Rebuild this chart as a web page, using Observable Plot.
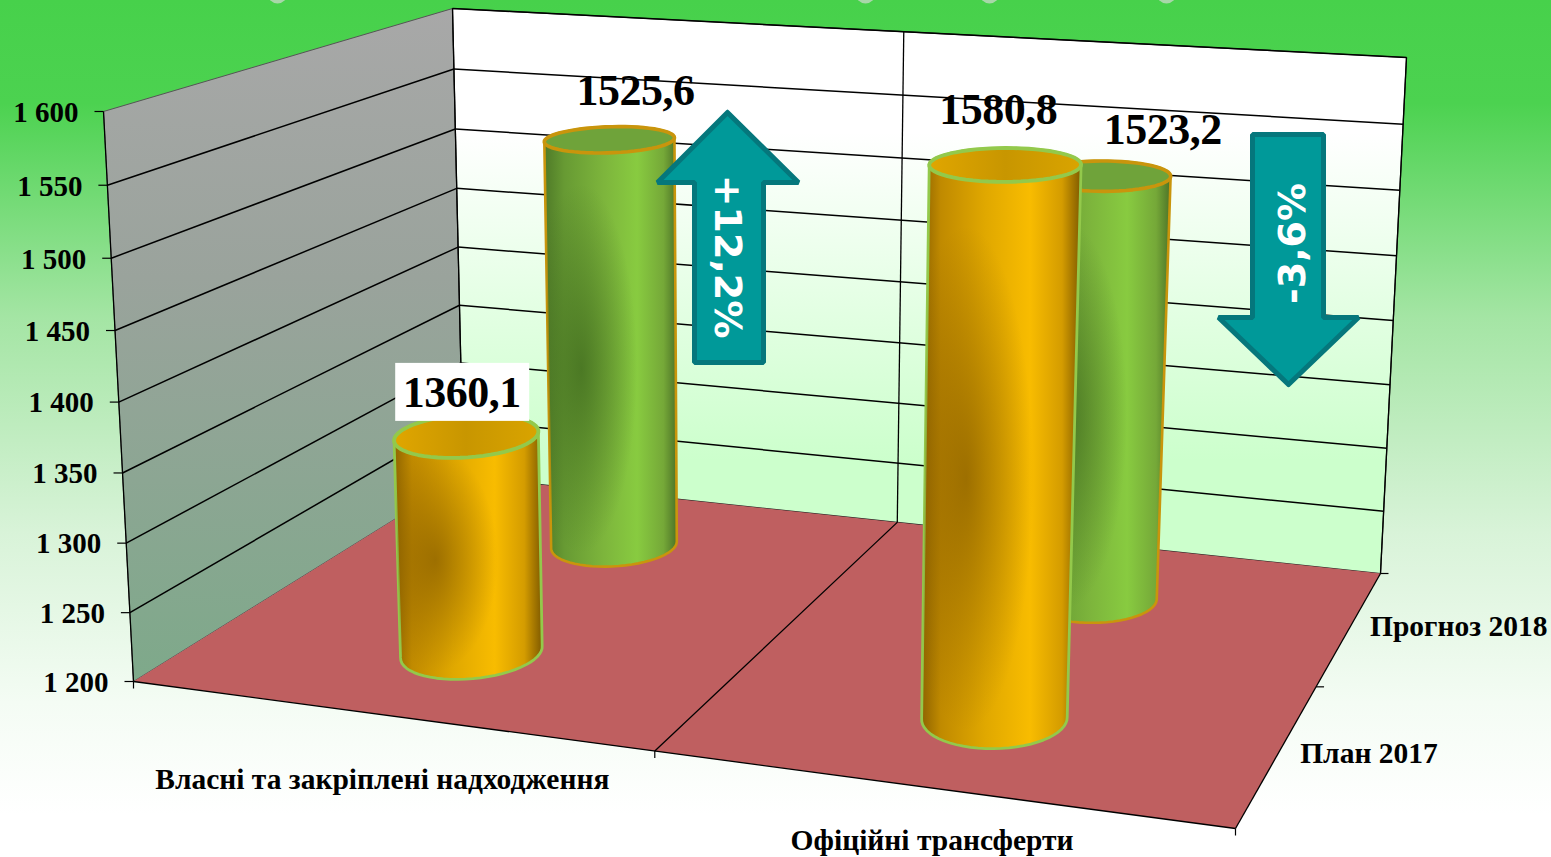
<!DOCTYPE html>
<html><head><meta charset="utf-8">
<script src="https://cdn.jsdelivr.net/npm/d3@7"></script>
<script src="https://cdn.jsdelivr.net/npm/@observablehq/plot@0.6"></script>
<style>
html,body{margin:0;padding:0;overflow:hidden;background:#fff}
svg{display:block}
.val text{letter-spacing:-0.5px}
</style></head><body><div id="chart"></div>
<script>
// ---- data ----
const categories = ["Власні та закріплені надходження", "Офіційні трансферти"];
const series = ["План 2017", "Прогноз 2018"];
const plan2017 = [1360.1, 1580.8];
const forecast2018 = [1525.6, 1523.2];
const valueLabels = [["1360,1", "1580,8"], ["1525,6", "1523,2"]];
const axisTicks = [1200, 1250, 1300, 1350, 1400, 1450, 1500, 1550, 1600];
const axisLabels = ["1 200", "1 250", "1 300", "1 350", "1 400", "1 450", "1 500", "1 550", "1 600"];
const changes = ["+12,2%", "-3,6%"];

// ---- 3D view of the chart box (screen corners, perspective bias) ----
const corners = {
  c000: [133, 681], c100: [1235, 828], c010: [463, 476], c110: [1380, 573],
  c001: [103, 111], c101: [1259, 196], c011: [452, 8], c111: [1406, 57]
};
const bias = (t, a) => t / (t + a * (1 - t));
const domainZ = [1200, 1600];
function project(u, v, value) {
  const U = bias(u, 1.114), V = bias(v, 0.8);
  const W = bias((value - domainZ[0]) / (domainZ[1] - domainZ[0]), 1.04);
  const c = corners, out = [0, 1].map(i =>
    c.c000[i]*(1-U)*(1-V)*(1-W) + c.c100[i]*U*(1-V)*(1-W) + c.c010[i]*(1-U)*V*(1-W) + c.c110[i]*U*V*(1-W) +
    c.c001[i]*(1-U)*(1-V)*W + c.c101[i]*U*(1-V)*W + c.c011[i]*(1-U)*V*W + c.c111[i]*U*V*W);
  return out;
}
const pt = (u, v, z) => { const p = project(u, v, z); return {x: p[0], y: p[1]}; };
const [Z0, Z1] = domainZ;
const closed = a => [...a, a[0]];
const face = (...ps) => closed(ps.map(p => pt(...p)));
const seg = (a, b) => { const p = pt(...a), q = pt(...b); return {x1: p.x, y1: p.y, x2: q.x, y2: q.y}; };

// cylinders
const ru = 0.0625, rv = 0.108;
const angles = d3.range(0, 360, 6).map(d => d * Math.PI / 180);
const ring = (u, v, z) => angles.map(a => pt(u + ru * Math.cos(a), v + rv * Math.sin(a), z));
function cylinder(ci, si, value) {
  const u = 0.25 + 0.5 * ci, v = 0.25 + 0.5 * si;
  const base = ring(u, v, Z0), top = ring(u, v, value);
  const hull = d3.polygonHull([...base, ...top].map(p => [p.x, p.y])).map(([x, y]) => ({x, y}));
  return {body: closed(hull), top: closed(top), center: pt(u, v, value)};
}
const style = [
  {body: "url(#bodyO)", shade: "url(#shadeO)", cap: "url(#capO)", rim: "#93c94b"},
  {body: "url(#bodyG)", shade: "url(#shadeG)", cap: "#6fa33a", rim: "#c9950c"}
];
function cylMarks(ci, si, value) {
  const c = cylinder(ci, si, value), s = style[si], w = si === 0 ? 2.8 : 2.6;
  return [
    Plot.line(c.body, {x: "x", y: "y", fill: s.body, stroke: s.rim, strokeWidth: w}),
    Plot.line(c.body, {x: "x", y: "y", fill: s.shade, stroke: "none"}),
    Plot.line(c.top, {x: "x", y: "y", fill: s.cap, stroke: s.rim, strokeWidth: w + 1})
  ];
}

// value labels: offset from each cylinder's top centre
const labelOffset = [[[-5, -42], [-7, -55]], [[26, -49], [60, -46]]];
const valueRows = [];
[plan2017, forecast2018].forEach((vals, si) => vals.forEach((val, ci) => {
  const c = cylinder(ci, si, val).center, o = labelOffset[si][ci];
  valueRows.push({x: c.x + o[0], y: c.y + o[1], t: valueLabels[si][ci]});
}));
const boxAnchor = valueRows[0];

// axis rows
const axisRows = axisTicks.map((t, i) => {
  const p = pt(0, 0, t);
  return {x1: p.x - 9, y1: p.y, x2: p.x, y2: p.y, lx: p.x - 25, ly: p.y + 1, label: axisLabels[i]};
});

// category / series labels
const catLabelAt = [[-5, 64], [-5, 52]];
const catRows = categories.map((t, i) => {
  const p = pt(0.25 + 0.5 * i, 0, Z0);
  return {x: p.x + catLabelAt[i][0], y: p.y + catLabelAt[i][1], t};
});
const serLabelAt = [[22, 0], [20, -1]];
const serRows = series.map((t, i) => {
  const p = pt(1, 0.25 + 0.5 * i, Z0);
  return {x: p.x + serLabelAt[i][0], y: p.y + serLabelAt[i][1], t};
});

// annotation arrows (slide shapes laid over the chart, in page pixels)
const arrowUp = [[727,112],[798,182],[763,182],[763,362],[694,362],[694,182],[657,182]];
const arrowDown = [[1288,384],[1358,317],[1323,317],[1323,134],[1252,134],[1252,317],[1218,317]];
const asRows = a => closed(a.map(([x, y]) => ({x, y})));
const changeRows = [{x: 727, y: 256, t: changes[0]}];
const changeRows2 = [{x: 1292, y: 243, t: changes[1]}];
const blobs = [277, 865, 989, 1166].map(x => ({x}));

const textOpts = {fontFamily: "Liberation Serif", fontWeight: "bold", fill: "#000"};

const plot = Plot.plot({
  width: 1551, height: 857, margin: 0,
  x: {domain: [0, 1551], range: [0, 1551], axis: null},
  y: {domain: [0, 857], range: [0, 857], axis: null},
  style: {background: "linear-gradient(180deg,#47d14b 0,#4cd250 12%,#a4e5a4 37%,#d8f3d8 62%,#f4fcf4 82%,#ffffff 95%)", overflow: "hidden"},
  marks: [
    Plot.dot(blobs, {x: "x", y: () => -7, r: 10, fill: "#c8d8c8", fillOpacity: 0.75}),
    // walls & floor
    Plot.line(face([0,0,Z0],[0,1,Z0],[0,1,Z1],[0,0,Z1]), {x:"x", y:"y", fill:"url(#wallL)", stroke:"#555", strokeWidth:1}),
    Plot.line(face([0,1,Z0],[1,1,Z0],[1,1,Z1],[0,1,Z1]), {x:"x", y:"y", fill:"url(#wallB)", stroke:"#222", strokeWidth:1.2}),
    Plot.line(face([0,0,Z0],[1,0,Z0],[1,1,Z0],[0,1,Z0]), {x:"x", y:"y", fill:"#bf5f60", stroke:"none"}),
    // gridlines
    Plot.link(axisTicks.slice(1, -1), {x1: t => seg([0,0,t],[0,1,t]).x1, y1: t => seg([0,0,t],[0,1,t]).y1, x2: t => seg([0,0,t],[0,1,t]).x2, y2: t => seg([0,0,t],[0,1,t]).y2, stroke:"#000", strokeWidth:1.5}),
    Plot.link(axisTicks.slice(1), {x1: t => seg([0,1,t],[1,1,t]).x1, y1: t => seg([0,1,t],[1,1,t]).y1, x2: t => seg([0,1,t],[1,1,t]).x2, y2: t => seg([0,1,t],[1,1,t]).y2, stroke:"#000", strokeWidth:1.5}),
    // dividers and axis frame
    Plot.link([seg([.5,1,Z0],[.5,1,Z1]), seg([.5,0,Z0],[.5,1,Z0]), seg([0,0,Z0],[0,0,Z1]), seg([0,0,Z0],[1,0,Z0]), seg([1,0,Z0],[1,1,Z0]), seg([0,1,Z0],[0,1,Z1]), seg([1,1,Z0],[1,1,Z1])],
      {x1:"x1", y1:"y1", x2:"x2", y2:"y2", stroke:"#000", strokeWidth:1.3}),
    // axis ticks
    Plot.link(axisRows, {x1:"x1", y1:"y1", x2:"x2", y2:"y2", stroke:"#000", strokeWidth:1.2}),
    Plot.link([0, .5, 1], {x1: u => pt(u,0,Z0).x, y1: u => pt(u,0,Z0).y, x2: u => pt(u,0,Z0).x, y2: u => pt(u,0,Z0).y + 7, stroke:"#000", strokeWidth:1.2}),
    Plot.link([.5, 1], {x1: v => pt(1,v,Z0).x, y1: v => pt(1,v,Z0).y, x2: v => pt(1,v,Z0).x + 8, y2: v => pt(1,v,Z0).y, stroke:"#000", strokeWidth:1.2}),
    // cylinders back to front
    ...cylMarks(0, 1, forecast2018[0]),
    ...cylMarks(0, 0, plan2017[0]),
    ...cylMarks(1, 1, forecast2018[1]),
    ...cylMarks(1, 0, plan2017[1]),
    // axis text
    Plot.text(axisRows, {x:"lx", y:"ly", text:"label", textAnchor:"end", fontSize:29, ...textOpts}),
    Plot.text(catRows, {x:"x", y:"y", text:"t", fontSize:29.5, ...textOpts}),
    Plot.text(serRows, {x:"x", y:"y", text:"t", textAnchor:"start", fontSize:29.5, ...textOpts}),
    // value labels
    Plot.rect([boxAnchor], {x1: d => d.x - 66, x2: d => d.x + 68, y1: d => d.y - 30, y2: d => d.y + 28, fill:"#fff"}),
    Plot.text(valueRows, {x:"x", y:"y", text:"t", fontSize:44, className:"val", ...textOpts}),
    // arrows
    Plot.line(asRows(arrowUp), {x:"x", y:"y", fill:"#009999", stroke:"#05777c", strokeWidth:5, strokeLinejoin:"miter"}),
    Plot.line(asRows(arrowDown), {x:"x", y:"y", fill:"#009999", stroke:"#05777c", strokeWidth:5, strokeLinejoin:"miter"}),
    Plot.text(changeRows, {x:"x", y:"y", text:"t", rotate:90, fontSize:38, fontFamily:"DejaVu Sans", fontWeight:"bold", fill:"#fff"}),
    Plot.text(changeRows2, {x:"x", y:"y", text:"t", rotate:-90, fontSize:38, fontFamily:"DejaVu Sans", fontWeight:"bold", fill:"#fff"})
  ]
});

// gradients used by the marks above
const defs = document.createElementNS("http://www.w3.org/2000/svg", "defs");
defs.innerHTML = `
<linearGradient id="wallL" x1="0" y1="0" x2="0" y2="1"><stop offset="0" stop-color="#a8a8a8"/><stop offset="0.4" stop-color="#9aa39c"/><stop offset="1" stop-color="#7ea98a"/></linearGradient>
<linearGradient id="wallB" x1="0" y1="0" x2="0" y2="1"><stop offset="0" stop-color="#fff"/><stop offset="0.22" stop-color="#fff"/><stop offset="0.5" stop-color="#e6ffe6"/><stop offset="0.8" stop-color="#ccffcc"/><stop offset="1" stop-color="#ccffcc"/></linearGradient>
<linearGradient id="bodyO"><stop offset="0" stop-color="#8f6400"/><stop offset="0.12" stop-color="#c08a00"/><stop offset="0.4" stop-color="#e0a800"/><stop offset="0.68" stop-color="#f8bc00"/><stop offset="0.88" stop-color="#d49c00"/><stop offset="1" stop-color="#7f5a00"/></linearGradient>
<linearGradient id="bodyG"><stop offset="0" stop-color="#4f7a28"/><stop offset="0.15" stop-color="#679a33"/><stop offset="0.45" stop-color="#7db53c"/><stop offset="0.7" stop-color="#88cb40"/><stop offset="0.9" stop-color="#75a838"/><stop offset="1" stop-color="#4d7327"/></linearGradient>
<radialGradient id="shadeO" cx="0.28" cy="0.55" r="0.42"><stop offset="0" stop-color="#7a5200" stop-opacity="0.6"/><stop offset="1" stop-color="#7a5200" stop-opacity="0"/></radialGradient>
<radialGradient id="shadeG" cx="0.28" cy="0.55" r="0.42"><stop offset="0" stop-color="#3f6a1e" stop-opacity="0.75"/><stop offset="1" stop-color="#3f6a1e" stop-opacity="0"/></radialGradient>
<linearGradient id="capO"><stop offset="0" stop-color="#e0a600"/><stop offset="0.5" stop-color="#c89600"/><stop offset="1" stop-color="#d9a400"/></linearGradient>`;
plot.insertBefore(defs, plot.firstChild);
document.getElementById("chart").append(plot);
</script></body></html>
